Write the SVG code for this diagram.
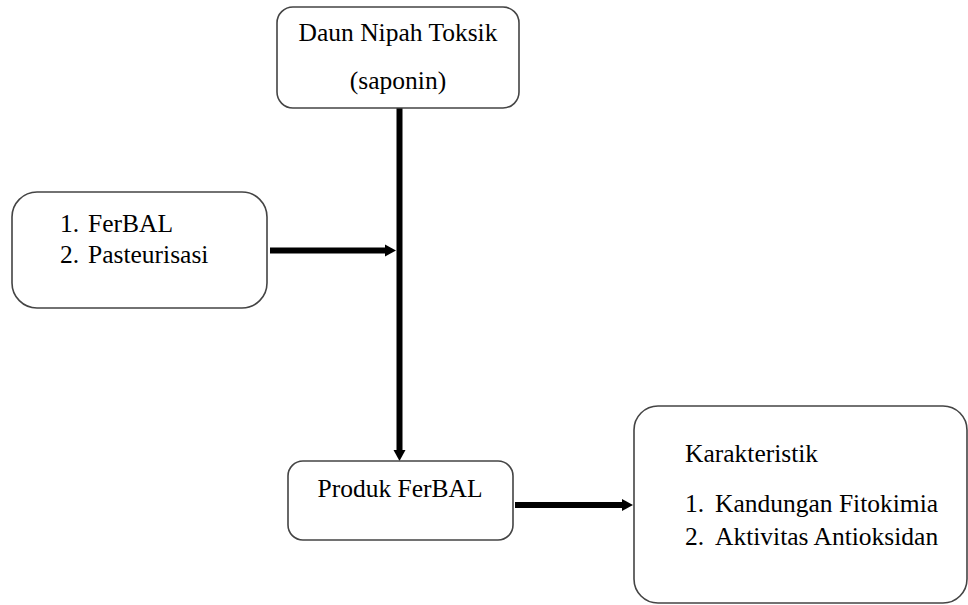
<svg xmlns="http://www.w3.org/2000/svg" width="968" height="605" viewBox="0 0 968 605">
<style>
.box{fill:#fff;stroke:#444;stroke-width:1.6}
.t{font-family:'Liberation Serif',Tinos,'Times New Roman','DejaVu Serif',serif;font-size:25.5px;fill:#000}
.c{text-anchor:middle}
.ln{stroke:#000;stroke-width:6;fill:none}
.hd{fill:#000}
</style>
<rect width="968" height="605" fill="#fff"/>
<g id="connectors">
<line class="ln" x1="399.5" y1="108" x2="399.5" y2="451"/>
<polygon class="hd" points="393.5,450 405.5,450 399.5,461"/>
<line class="ln" x1="270" y1="250.5" x2="386" y2="250.5"/>
<polygon class="hd" points="385,244.5 385,256.5 396,250.5"/>
<line class="ln" x1="515" y1="505" x2="623" y2="505"/>
<polygon class="hd" points="622,499 622,511 633,505"/>
</g>
<g id="node-daun">
<rect class="box" x="277" y="7" width="242" height="101" rx="16"/>
<text class="t c" x="398" y="41" font-family="Liberation Serif">Daun Nipah Toksik</text>
<text class="t c" x="398" y="89">(saponin)</text>
</g>
<g id="node-ferbal">
<rect class="box" x="12" y="192" width="255" height="116" rx="25"/>
<text class="t" x="60" y="232">1.</text>
<text class="t" x="88" y="232">FerBAL</text>
<text class="t" x="60" y="263">2.</text>
<text class="t" x="88" y="263">Pasteurisasi</text>
</g>
<g id="node-produk">
<rect class="box" x="288" y="461" width="225" height="79" rx="15"/>
<text class="t c" x="400" y="497">Produk FerBAL</text>
</g>
<g id="node-karakteristik">
<rect class="box" x="634" y="406" width="333" height="197" rx="24"/>
<text class="t" x="685" y="462">Karakteristik</text>
<text class="t" x="685" y="512">1.</text>
<text class="t" x="715" y="512">Kandungan Fitokimia</text>
<text class="t" x="685" y="545">2.</text>
<text class="t" x="715" y="545">Aktivitas Antioksidan</text>
</g>
</svg>
